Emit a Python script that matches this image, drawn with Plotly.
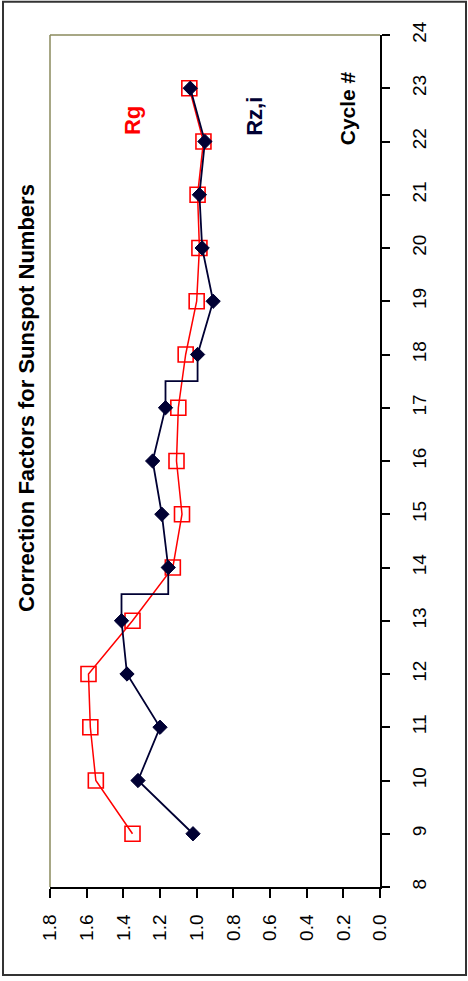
import plotly.graph_objects as go

# Solar cycle numbers and correction factors for the two sunspot series
cycles = [9, 10, 11, 12, 13, 14, 15, 16, 17, 18, 19, 20, 21, 22, 23]
rg = [1.35, 1.55, 1.58, 1.59, 1.35, 1.13, 1.08, 1.11, 1.10, 1.06, 1.00, 0.985, 0.995, 0.963, 1.04]
rzi = [1.02, 1.32, 1.20, 1.38, 1.41, 1.155, 1.19, 1.24, 1.17, 0.995, 0.91, 0.97, 0.985, 0.955, 1.035]
# Cycles after which the Rz,i curve is drawn as a step to the next cycle
rzi_step_after = [13, 17]

x_ticks = [1.8, 1.6, 1.4, 1.2, 1.0, 0.8, 0.6, 0.4, 0.2, 0.0]
y_ticks = list(range(8, 25))

RED = "#ff0000"
NAVY = "#000033"
FONT = "Liberation Sans, Arial, sans-serif"

# Build the Rz,i path, inserting half-cycle corners for stepped segments
path_x, path_y = [rzi[0]], [cycles[0]]
for i in range(1, len(cycles)):
    c0, c1 = cycles[i - 1], cycles[i]
    if c0 in rzi_step_after:
        mid = (c0 + c1) / 2
        path_x += [rzi[i - 1], rzi[i]]
        path_y += [mid, mid]
    path_x.append(rzi[i])
    path_y.append(c1)

fig = go.Figure()

fig.add_trace(go.Scatter(
    x=rg, y=cycles, mode="lines+markers", name="Rg",
    line=dict(color=RED, width=1.5),
    marker=dict(symbol="square-open", size=15, color=RED, line=dict(width=1.6, color=RED)),
))
fig.add_trace(go.Scatter(
    x=path_x, y=path_y, mode="lines", name="Rz,i line", showlegend=False,
    line=dict(color=NAVY, width=1.8), hoverinfo="skip",
))
fig.add_trace(go.Scatter(
    x=rzi, y=cycles, mode="markers", name="Rz,i",
    marker=dict(symbol="diamond", size=11, color=NAVY, line=dict(width=1, color=NAVY)),
))


def label(text, x, y, size, color):
    return dict(text=f"<b>{text}</b>", textangle=-90, xref="paper", yref="paper",
                x=x, y=y, xanchor="center", yanchor="middle", showarrow=False,
                font=dict(size=size, family=FONT, color=color))


fig.update_layout(
    width=468, height=981,
    margin=dict(l=50, r=88, t=35, b=94),
    paper_bgcolor="white", plot_bgcolor="white",
    showlegend=False,
    font=dict(family=FONT, color="black"),
    xaxis=dict(
        range=[1.8, 0.0], tickvals=x_ticks, tickformat=".1f", tickangle=-90,
        ticks="outside", ticklen=9, tickwidth=1.5, tickcolor="black",
        showline=True, linecolor="black", linewidth=1.8,
        showgrid=False, zeroline=False, tickfont=dict(size=19, family=FONT),
        ticklabelstandoff=9,
    ),
    yaxis=dict(
        range=[8, 24], tickvals=y_ticks, side="right", tickangle=-90,
        ticks="outside", ticklen=8, tickwidth=1.5, tickcolor="black",
        showline=True, linecolor="black", linewidth=1.8,
        showgrid=False, zeroline=False, tickfont=dict(size=19, family=FONT),
        ticklabelstandoff=13,
    ),
    shapes=[
        # outer frame
        dict(type="rect", xref="paper", yref="paper",
             x0=-0.1424, x1=1.2606, y0=-0.1033, y1=1.039,
             line=dict(color="#333333", width=2)),
        # top and left borders of the plot area
        dict(type="line", xref="paper", yref="paper", x0=0, x1=1, y0=1, y1=1,
             line=dict(color="#8a8a5c", width=1.5)),
        dict(type="line", xref="paper", yref="paper", x0=0, x1=0, y0=0, y1=1,
             line=dict(color="#8a8a5c", width=1.5)),
    ],
    annotations=[
        label("Correction Factors for Sunspot Numbers", -0.0697, 0.574, 22, "black"),
        label("Rg", 0.248, 0.9, 22, RED),
        label("Rz,i", 0.621, 0.905, 22, NAVY),
        label("Cycle #", 0.9, 0.914, 21, "black"),
    ],
)

fig.write_html("out.html")
